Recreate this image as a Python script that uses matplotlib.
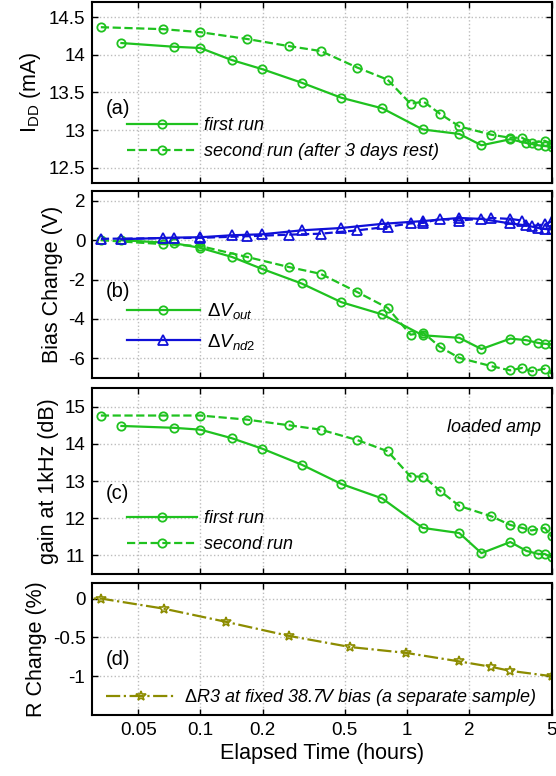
import matplotlib
matplotlib.use("Agg")
import matplotlib.pyplot as plt

plt.rcParams['font.family'] = ['Liberation Sans', 'DejaVu Sans']
plt.rcParams['mathtext.fontset'] = 'custom'
plt.rcParams['mathtext.rm'] = 'Liberation Sans'
plt.rcParams['mathtext.it'] = 'Liberation Sans:italic'
plt.rcParams['axes.unicode_minus'] = False

# time axis (hours)
t1 = [0.0415, 0.0743, 0.1, 0.142, 0.199, 0.309, 0.481, 0.759, 1.19, 1.79,
      2.29, 3.16, 3.78, 4.31, 4.63, 5.0]
t2 = [0.033, 0.066, 0.1, 0.168, 0.267, 0.382, 0.575, 0.805, 1.04, 1.2,
      1.44, 1.79, 2.56, 3.15, 3.6, 4.0, 4.63, 5.0]

# (a) supply current, mA
idd1 = [14.156, 14.107, 14.09, 13.93, 13.81, 13.63, 13.43, 13.29, 13.01, 12.95,
        12.80, 12.88, 12.83, 12.80, 12.79, 12.78]
idd2 = [14.366, 14.34, 14.30, 14.21, 14.116, 14.05, 13.83, 13.67, 13.35, 13.38,
        13.22, 13.05, 12.94, 12.90, 12.90, 12.83, 12.86, 12.82]

# (b) bias change, V
vout1 = [0.0, -0.15, -0.39, -0.85, -1.46, -2.2, -3.15, -3.77, -4.83, -4.96,
         -5.53, -5.0, -5.08, -5.22, -5.26, -5.29]
vout2 = [0.0, -0.2, -0.3, -0.85, -1.36, -1.71, -2.64, -3.44, -4.8, -4.7,
         -5.42, -5.98, -6.4, -6.61, -6.49, -6.66, -6.53, -6.78]
vnd1 = [0.05, 0.13, 0.15, 0.25, 0.3, 0.5, 0.62, 0.83, 0.97, 1.13,
        1.08, 0.85, 0.75, 0.62, 0.57, 0.55]
vnd2 = [0.07, 0.1, 0.12, 0.2, 0.28, 0.33, 0.5, 0.68, 0.85, 0.88,
        1.08, 1.0, 1.13, 1.08, 1.0, 0.72, 0.8, 0.95]

# (c) gain at 1 kHz, dB
gain1 = [14.48, 14.43, 14.38, 14.15, 13.87, 13.44, 12.92, 12.53, 11.74, 11.6,
         11.06, 11.36, 11.12, 11.04, 11.04, 10.95]
gain2 = [14.76, 14.76, 14.76, 14.65, 14.5, 14.38, 14.1, 13.8, 13.12, 13.12,
         12.74, 12.33, 12.05, 11.82, 11.74, 11.67, 11.74, 11.51]

# (d) resistor change, %
tR = [0.025, 0.033, 0.0664, 0.133, 0.267, 0.532, 0.99, 1.79, 2.56, 3.13, 5.0]
dR = [0.0, 0.0, -0.13, -0.30, -0.48, -0.625, -0.70, -0.81, -0.88, -0.93, -1.0]

xticks = [0.05, 0.1, 0.2, 0.5, 1, 2, 5]
xticklabels = ['0.05', '0.1', '0.2', '0.5', '1', '2', '5']

green = '#1fc21f'
blue = '#1010d8'
olive = '#8c8c00'
fs = 13
tfs = 13.5
lfs = 15.5

fig = plt.figure(figsize=(5.56, 7.76), dpi=100)
L, W = 0.166, 0.826
boxes = [(0.7642, 0.2332), (0.5129, 0.2410), (0.2603, 0.2397), (0.0786, 0.1701)]
axs = [fig.add_axes([L, b, W, h]) for b, h in boxes]

for ax in axs:
    ax.set_xscale('log')
    ax.set_xlim(0.03, 5)
    ax.set_xticks(xticks)
    ax.xaxis.set_minor_locator(matplotlib.ticker.NullLocator())
    ax.grid(True, linestyle=':', color='#bdbdbd', linewidth=1.0)
    ax.tick_params(direction='in', top=True, right=True, length=4, width=1,
                   labelsize=tfs, pad=5)
    for s in ax.spines.values():
        s.set_linewidth(1.5)
    ax.set_xticklabels([])

mk = dict(marker='o', ms=6, mfc='none', mew=1.3, lw=1.6)
tri = dict(marker='^', ms=6.5, mfc='none', mew=1.3, lw=1.6)
leg = dict(frameon=False, handlelength=3.9, handletextpad=0.4,
           borderaxespad=0, borderpad=0, loc='upper left')
itprop = {'size': fs, 'style': 'italic'}

# (a)
ax = axs[0]
ax.plot(t1, idd1, '-', color=green, label='first run', **mk)
ax.plot(t2, idd2, '--', color=green, label='second run (after 3 days rest)', **mk)
ax.set_ylim(12.3, 14.7)
ax.set_yticks([12.5, 13, 13.5, 14, 14.5])
ax.set_yticklabels(['12.5', '13', '13.5', '14', '14.5'])
ax.set_ylabel(r'I$_{\rm DD}$ (mA)', fontsize=lfs, labelpad=4)
ax.text(0.03, 0.41, '(a)', transform=ax.transAxes, fontsize=fs + 1.5, va='center')
ax.legend(bbox_to_anchor=(0.075, 0.365), prop=itprop, **leg)

# (b)
ax = axs[1]
ax.plot(t1, vout1, '-', color=green, label=r'$\Delta V_{out}$', **mk)
ax.plot(t2, vout2, '--', color=green, **mk)
ax.plot(t1, vnd1, '-', color=blue, label=r'$\Delta V_{nd2}$', **tri)
ax.plot(t2, vnd2, '--', color=blue, **tri)
ax.set_ylim(-7, 2.5)
ax.set_yticks([-6, -4, -2, 0, 2])
ax.set_ylabel('Bias Change (V)', fontsize=lfs, labelpad=4)
ax.text(0.03, 0.46, '(b)', transform=ax.transAxes, fontsize=fs + 1.5, va='center')
ax.legend(bbox_to_anchor=(0.075, 0.41), labelspacing=0.55, fontsize=fs + 0.5, **leg)

# (c)
ax = axs[2]
ax.plot(t1, gain1, '-', color=green, label='first run', **mk)
ax.plot(t2, gain2, '--', color=green, label='second run', **mk)
ax.set_ylim(10.5, 15.5)
ax.set_yticks([11, 12, 13, 14, 15])
ax.set_ylabel('gain at 1kHz (dB)', fontsize=lfs, labelpad=4)
ax.text(0.03, 0.435, '(c)', transform=ax.transAxes, fontsize=fs + 1.5, va='center')
ax.text(0.978, 0.785, 'loaded amp', transform=ax.transAxes, fontsize=fs,
        style='italic', ha='right', va='center')
ax.legend(bbox_to_anchor=(0.075, 0.345), prop=itprop, **leg)

# (d)
ax = axs[3]
ax.plot(tR, dR, '-.', color=olive, marker='*', ms=7, mfc='none', mew=1.2, lw=1.6,
        label=r'$\Delta$R3 at fixed 38.7V bias (a separate sample)')
ax.set_ylim(-1.5, 0.2)
ax.set_yticks([-1, -0.5, 0])
ax.set_yticklabels(['-1', '-0.5', '0'])
ax.set_ylabel('R Change (%)', fontsize=lfs, labelpad=4)
ax.text(0.03, 0.417, '(d)', transform=ax.transAxes, fontsize=fs + 1.5, va='center')
ax.legend(bbox_to_anchor=(0.03, 0.21), prop=itprop, handlelength=3.9,
          handletextpad=0.4, frameon=False, borderpad=0, borderaxespad=0,
          loc='upper left')
ax.set_xticklabels(xticklabels)
ax.set_xlabel('Elapsed Time (hours)', fontsize=lfs, labelpad=3)

fig.savefig('out.png', dpi=100)
